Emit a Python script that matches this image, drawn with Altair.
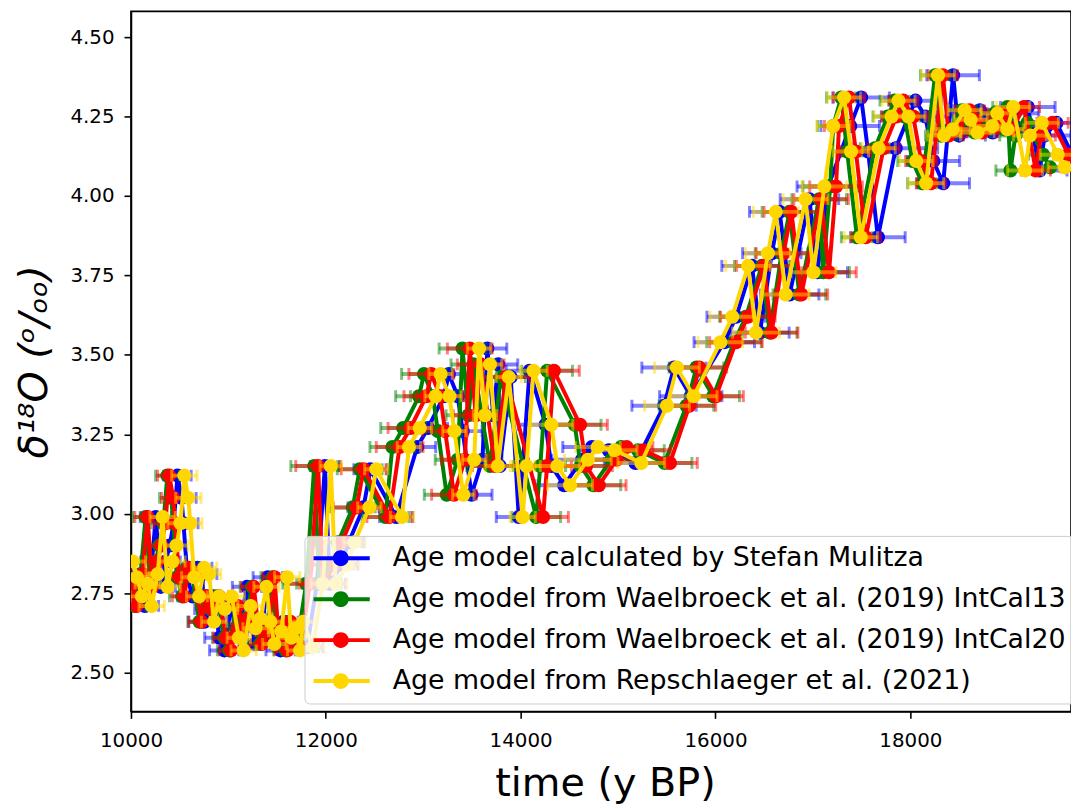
import altair as alt
import pandas as pd

series_names = [
    "Age model calculated by Stefan Mulitza",
    "Age model from Waelbroeck et al. (2019) IntCal13",
    "Age model from Waelbroeck et al. (2019) IntCal20",
    "Age model from Repschlaeger et al. (2021)",
]
series_colors = ["#0000ff", "#008000", "#ff0000", "#ffd700"]

# delta 18O values of the samples (shared by all age models)
d18o = [
    2.85, 2.80, 2.74, 2.78, 2.71, 2.81, 2.99, 2.77, 2.85, 2.90,
    2.97, 3.12, 3.05, 2.97, 2.80, 2.74, 2.83, 2.81, 2.66, 2.74,
    2.70, 2.74, 2.61, 2.57, 2.71, 2.64, 2.67, 2.77, 2.66, 2.59,
    2.63, 2.80, 2.61, 2.64, 2.57, 2.66, 2.58, 2.78, 3.15, 2.78,
    2.84, 2.91, 3.02, 3.14, 2.99, 3.21, 3.27, 3.37, 3.44, 3.37,
    3.26, 3.06, 3.17, 3.52, 3.31, 3.47, 3.15, 3.43, 2.99, 3.15,
    3.45, 3.28, 3.15, 3.09, 3.17, 3.21, 3.20, 3.16, 3.34, 3.46,
    3.37, 3.54, 3.62, 3.78, 3.57, 3.82, 3.95, 3.69, 3.99, 3.76,
    4.03, 4.22, 4.31, 4.14, 3.87, 4.15, 4.25, 4.30, 4.25, 4.11,
    4.04, 4.38, 4.19, 4.21, 4.27, 4.24, 4.20, 4.22, 4.26, 4.21,
    4.28, 4.08, 4.19, 4.23, 4.13, 4.09,
]

age_mulitza = [
    9950, 9991, 10042, 10103, 10143, 10204, 10255, 10306, 10356, 10397,
    10438, 10478, 10519, 10539, 10580, 10630, 10681, 10732, 10753, 10774,
    10804, 10845, 10907, 10957, 11028, 11079, 11130, 11191, 11231, 11272,
    11343, 11404, 11445, 11485, 11536, 11566, 11808, 11909, 11991, 12041,
    12163, 12234, 12387, 12458, 12722, 12938, 13049, 13212, 13263, 13354,
    13405, 13496, 13608, 13658, 13719, 13770, 13786, 13898, 13980, 14021,
    14092, 14255, 14316, 14447, 14630, 14732, 14904, 15178, 15472, 15574,
    15746, 16090, 16212, 16375, 16456, 16578, 16659, 16761, 16964, 17045,
    17157, 17383, 17495, 17566, 17667, 17850, 17982, 18053, 18155, 18236,
    18337, 18439, 18500, 18591, 18713, 18774, 18845, 18997, 19048, 19150,
    19206, 19328, 19378, 19500, 19663, 19734,
]
age_intcal13 = [
    9845, 9886, 9937, 9998, 10038, 10099, 10150, 10201, 10251, 10292,
    10333, 10373, 10414, 10434, 10475, 10525, 10576, 10627, 10703, 10754,
    10814, 10885, 10957, 11007, 11078, 11129, 11180, 11241, 11281, 11322,
    11393, 11454, 11495, 11535, 11586, 11616, 11698, 11799, 11881, 11931,
    12053, 12124, 12277, 12348, 12612, 12683, 12794, 12957, 13008, 13099,
    13150, 13241, 13353, 13403, 13464, 13515, 13686, 13798, 14160, 14201,
    14272, 14555, 14616, 14747, 14930, 15032, 15204, 15478, 15702, 15804,
    15976, 16190, 16312, 16475, 16556, 16678, 16759, 16861, 17064, 17105,
    17177, 17208, 17290, 17351, 17452, 17635, 17767, 17838, 17940, 18021,
    18122, 18254, 18315, 18406, 18528, 18589, 18660, 18812, 18863, 18965,
    18996, 19028, 19078, 19200, 19363, 19434,
]
age_intcal20 = [
    9865, 9906, 9957, 10018, 10058, 10119, 10170, 10221, 10271, 10312,
    10353, 10393, 10434, 10454, 10495, 10545, 10596, 10647, 10723, 10774,
    10834, 10905, 10977, 11027, 11098, 11149, 11200, 11261, 11301, 11342,
    11413, 11474, 11515, 11555, 11606, 11636, 11738, 11839, 11921, 11971,
    12093, 12164, 12317, 12388, 12652, 12758, 12869, 13032, 13083, 13174,
    13225, 13316, 13428, 13478, 13539, 13590, 13736, 13848, 14230, 14271,
    14342, 14610, 14671, 14802, 14985, 15087, 15259, 15533, 15732, 15834,
    16006, 16210, 16332, 16495, 16576, 16698, 16779, 16881, 17084, 17165,
    17237, 17268, 17370, 17441, 17542, 17725, 17857, 17928, 18030, 18111,
    18212, 18334, 18395, 18486, 18608, 18669, 18740, 18892, 18943, 19045,
    19166, 19288, 19338, 19460, 19623, 19694,
]
age_repschlaeger = [
    10020, 10061, 10112, 10173, 10213, 10274, 10325, 10376, 10426, 10467,
    10508, 10548, 10589, 10609, 10650, 10700, 10751, 10802, 10853, 10904,
    10964, 11035, 11107, 11157, 11228, 11279, 11330, 11391, 11431, 11472,
    11543, 11604, 11645, 11685, 11736, 11766, 11868, 11969, 12051, 12101,
    12223, 12294, 12447, 12518, 12782, 12853, 12964, 13127, 13178, 13269,
    13320, 13411, 13523, 13573, 13634, 13685, 13766, 13878, 14020, 14061,
    14132, 14315, 14376, 14507, 14690, 14792, 14964, 15238, 15502, 15604,
    15776, 16050, 16172, 16335, 16416, 16538, 16619, 16721, 16924, 17005,
    17117, 17208, 17320, 17391, 17492, 17675, 17807, 17878, 17980, 18061,
    18162, 18284, 18345, 18436, 18558, 18619, 18690, 18842, 18893, 18995,
    19056, 19178, 19228, 19350, 19513, 19584,
]

err_mulitza = [
    150, 150, 160, 150, 140, 150, 160, 150, 150, 160,
    150, 140, 150, 150, 160, 150, 150, 150, 160, 150,
    150, 160, 150, 150, 150, 160, 150, 150, 150, 160,
    150, 150, 150, 160, 150, 150, 160, 150, 150, 160,
    170, 160, 160, 170, 170, 190, 200, 200, 210, 200,
    200, 210, 200, 200, 210, 200, 220, 220, 230, 230,
    240, 280, 300, 300, 310, 300, 310, 320, 330, 330,
    320, 310, 300, 310, 300, 300, 310, 300, 300, 310,
    320, 300, 290, 280, 280, 430, 280, 270, 280, 270,
    270, 270, 270, 270, 280, 280, 270, 280, 270, 280,
    280, 280, 270, 280, 270, 280,
]
err_intcal13 = [
    120, 120, 130, 120, 110, 120, 130, 120, 120, 120,
    130, 120, 120, 120, 120, 130, 120, 120, 120, 120,
    130, 120, 120, 120, 120, 130, 120, 120, 130, 120,
    120, 120, 120, 130, 120, 120, 230, 240, 240, 230,
    230, 240, 230, 230, 240, 230, 230, 240, 230, 230,
    240, 230, 230, 240, 230, 230, 240, 250, 250, 260,
    260, 270, 270, 280, 270, 280, 270, 280, 280, 280,
    270, 280, 270, 280, 280, 270, 280, 270, 280, 270,
    280, 160, 150, 150, 160, 150, 150, 150, 160, 150,
    150, 150, 160, 150, 150, 150, 160, 150, 150, 160,
    150, 150, 160, 150, 150, 160,
]
err_intcal20 = [
    120, 130, 120, 120, 120, 120, 130, 120, 120, 130,
    120, 120, 120, 130, 120, 120, 120, 120, 130, 120,
    120, 120, 130, 120, 120, 120, 120, 130, 120, 120,
    130, 120, 120, 120, 130, 120, 240, 230, 230, 240,
    230, 230, 240, 230, 230, 240, 230, 230, 230, 240,
    230, 230, 240, 230, 230, 240, 230, 240, 260, 250,
    260, 280, 270, 280, 280, 270, 280, 280, 270, 280,
    280, 270, 280, 280, 270, 280, 280, 270, 280, 280,
    270, 150, 160, 150, 150, 160, 150, 150, 150, 160,
    150, 150, 150, 160, 150, 150, 160, 150, 150, 150,
    160, 150, 150, 160, 150, 150,
]
err_repschlaeger = [
    130, 130, 120, 130, 130, 120, 130, 130, 130, 120,
    130, 130, 130, 120, 130, 130, 130, 120, 130, 120,
    130, 130, 120, 130, 130, 130, 120, 130, 130, 120,
    130, 130, 130, 120, 130, 130, 110, 120, 110, 120,
    120, 110, 120, 120, 120, 120, 120, 110, 120, 120,
    120, 110, 120, 120, 120, 120, 130, 130, 130, 140,
    140, 220, 230, 230, 240, 230, 230, 240, 230, 230,
    240, 230, 230, 230, 240, 230, 230, 240, 230, 230,
    230, 170, 170, 180, 170, 170, 180, 170, 170, 170,
    180, 170, 170, 180, 170, 170, 170, 180, 170, 170,
    170, 180, 170, 170, 180, 170,
]

x_ticks = [10000, 12000, 14000, 16000, 18000]
y_ticks = [2.50, 2.75, 3.00, 3.25, 3.50, 3.75, 4.00, 4.25, 4.50]

ages = [age_mulitza, age_intcal13, age_intcal20, age_repschlaeger]
errs = [err_mulitza, err_intcal13, err_intcal20, err_repschlaeger]

rows = []
for name, a_list, e_list in zip(series_names, ages, errs):
    for i, (a, v, e) in enumerate(zip(a_list, d18o, e_list)):
        rows.append({"series": name, "idx": i, "age": a, "d18o": v,
                     "lo": a - e, "hi": a + e})
df = pd.DataFrame(rows)

PLOT_W, PLOT_H = 948, 706
xscale = alt.Scale(domain=[10000, 19649], nice=False, zero=False)
yscale = alt.Scale(domain=[2.378, 4.581], nice=False, zero=False)
fscale = alt.Scale(domain=series_names, range=series_colors)

xaxis = alt.Axis(values=x_ticks, format="d", labelFlush=False, labelOverlap=False,
                 labelPadding=12,
                 titleX=478, titleY=85, titleBaseline="alphabetic", titleAlign="center")
yaxis = alt.Axis(values=y_ticks, format=".2f", labelFlush=False, labelOverlap=False,
                 labelPadding=10,
                 titleX=-85, titleY=PLOT_H / 2, titleAngle=270,
                 titleBaseline="alphabetic", titleAlign="center", titleFontStyle="italic")

X_TITLE = "time (y BP)"
Y_TITLE = "\u03b4\u00b9\u2078O (\u1d52/\u2092\u2092)"


def X(field):
    return alt.X(f"{field}:Q", scale=xscale, axis=xaxis, title=X_TITLE)


def Y():
    return alt.Y("d18o:Q", scale=yscale, axis=yaxis, title=Y_TITLE)


legend_symbol = ("M-1,-0.15L3.25,-0.15L3.25,0.15L-1,0.15Z "
                 "M1.66,0A0.6,0.6 0 1,1 0.46,0A0.6,0.6 0 1,1 1.66,0Z")
legend = alt.Legend(
    title=None, orient="none", legendX=175, legendY=529,
    symbolType=legend_symbol, symbolSize=711, symbolStrokeWidth=0, symbolOpacity=1,
    labelFont="DejaVu Sans", labelFontSize=27, labelColor="black",
    labelOffset=53, labelLimit=2000, rowPadding=13.3, padding=9,
    fillColor="rgba(255,255,255,0.8)", strokeColor="#cccccc", cornerRadius=5,
)

layers = []
for name, colr in zip(series_names, series_colors):
    base = alt.Chart(df).transform_filter(alt.datum.series == name)
    layers.append(base.mark_rule(strokeWidth=4, opacity=0.5, color=colr, clip=True).encode(
        x=X("lo"), x2="hi:Q", y=Y()))
    layers.append(base.mark_tick(orient="vertical", size=12, thickness=3,
                                 opacity=0.5, color=colr, clip=True).encode(
        x=X("lo"), y=Y()))
    layers.append(base.mark_tick(orient="vertical", size=12, thickness=3,
                                 opacity=0.5, color=colr, clip=True).encode(
        x=X("hi"), y=Y()))
    layers.append(base.mark_line(strokeWidth=4, color=colr, clip=True).encode(
        x=X("age"), y=Y(), order=alt.Order("idx:Q")))
    layers.append(base.mark_circle(size=201, opacity=1, clip=True).encode(
        x=X("age"), y=Y(),
        fill=alt.Fill("series:N", scale=fscale, legend=legend)))

chart = alt.layer(*layers).properties(
    width=PLOT_W, height=PLOT_H,
    autosize=alt.AutoSizeParams(type="none"),
    padding={"left": 124, "top": 0, "right": 0, "bottom": 91},
).configure(
    font="DejaVu Sans"
).configure_view(
    stroke="black", strokeWidth=1.6
).configure_axis(
    domainColor="black", domainWidth=1.6, tickColor="black", tickWidth=1.6,
    tickSize=7, labelFont="DejaVu Sans", labelFontSize=20, labelColor="black",
    grid=False, titleFont="DejaVu Sans", titleFontSize=40,
    titleFontWeight="normal", titleColor="black", zindex=1,
)

chart.save("out.html", embed_options={"renderer": "svg", "actions": False})
